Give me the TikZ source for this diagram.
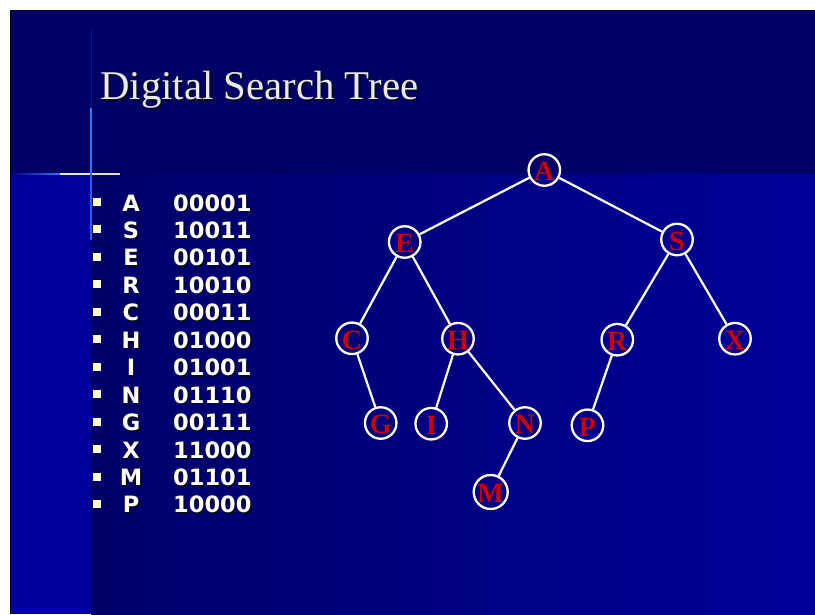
\documentclass[tikz,border=0pt]{standalone}
\usepackage{fontspec}
\setmainfont{Liberation Serif}
\newfontfamily\listfont{DejaVu Sans}
\definecolor{band}{RGB}{0,0,102}
\definecolor{strip}{RGB}{0,0,158}
\definecolor{deepL}{RGB}{0,0,106}
\definecolor{deepR}{RGB}{0,0,152}
\definecolor{letterred}{RGB}{204,0,0}
\definecolor{bulletc}{RGB}{255,255,204}
\definecolor{titlegray}{RGB}{234,234,242}
\definecolor{rulecol}{RGB}{51,119,255}
\definecolor{rulecream}{RGB}{228,228,208}
\definecolor{shadowcol}{RGB}{8,8,30}
% text with a dark drop shadow, offset down and to the right
\newcommand\dropshade[2]{\makebox[0pt][l]{\hspace*{#1}\raisebox{-#1}{\textcolor{shadowcol}{#2}}}#2}
\begin{document}
\begin{tikzpicture}[x=1pt,y=-1pt,
  vertex/.style={circle,draw=white,line width=2.3pt,minimum size=31.5pt,inner sep=0pt,
    text=letterred,font=\fontsize{28}{28}\selectfont\bfseries,
    text height=21.5pt,text depth=0pt},
  edge/.style={draw=white,line width=2.2pt},
  bulletbox/.style={rectangle,fill=bulletc,minimum size=8pt,inner sep=0pt},
  listtext/.style={text=white,font=\listfont\fontsize{22.5}{22.5}\selectfont\bfseries,inner sep=0pt},
  titletext/.style={text=titlegray,font=\fontsize{40.8}{40.8}\selectfont,inner sep=0pt,anchor=base west}]
\useasboundingbox (0,0) rectangle (815,614);
% page and slide background
\fill[white] (0,0) rectangle (815,614);
\fill[band] (10,10) rectangle (815,174);
\fill[strip] (10,174) rectangle (91,614);
\shade[left color=deepL,right color=deepR] (91,174) rectangle (815,614);
\draw[black,line width=1pt] (10.5,10) -- (10.5,614);
% corner rules
\shade[left color=band,right color=rulecol] (10,173.2) rectangle (60,174.8);
\fill[rulecream] (60,173.2) rectangle (120,174.8);
\draw[rulecol!20!band,line width=1pt] (91,30) -- (91,108);
\draw[rulecol,line width=1.5pt] (91,108) -- (91,174);
\draw[rulecol!80!strip,line width=1.2pt] (91,174) -- (91,240);
% title
\node[titletext] (title) at (100,99) {\dropshade{2pt}{Digital Search Tree}};
% key list
\foreach \k/\c [count=\i from 0] in {A/00001,S/10011,E/00101,R/10010,C/00011,H/01000,I/01001,N/01110,G/00111,X/11000,M/01101,P/10000}{
  \pgfmathsetmacro\yb{211+27.45*\i}
  \node[bulletbox] (b\i) at (97,\yb-9) {};
  \node[listtext,anchor=base] (k\i) at (131,\yb) {\dropshade{1.6pt}{\k}};
  \node[listtext,anchor=base west] (c\i) at (173,\yb) {\dropshade{1.6pt}{\c}};
}
% tree
\node[vertex] (nA) at (544.3,170) {A};
\node[vertex] (nE) at (404.7,242) {E};
\node[vertex] (nS) at (677,239.5) {S};
\node[vertex] (nC) at (352,338.3) {C};
\node[vertex] (nH) at (458,338.7) {H};
\node[vertex] (nR) at (617.3,339.7) {R};
\node[vertex] (nX) at (735,338.7) {X};
\node[vertex] (nG) at (380.7,423) {G};
\node[vertex] (nI) at (431.2,423.7) {I};
\node[vertex] (nN) at (525,423) {N};
\node[vertex] (nP) at (587.5,425.3) {P};
\node[vertex] (nM) at (490.7,492) {M};
\draw[edge] (nA) -- (nE);
\draw[edge] (nA) -- (nS);
\draw[edge] (nE) -- (nC);
\draw[edge] (nE) -- (nH);
\draw[edge] (nC) -- (nG);
\draw[edge] (nH) -- (nI);
\draw[edge] (nH) -- (nN);
\draw[edge] (nN) -- (nM);
\draw[edge] (nS) -- (nR);
\draw[edge] (nS) -- (nX);
\draw[edge] (nR) -- (nP);
\end{tikzpicture}
\end{document}
